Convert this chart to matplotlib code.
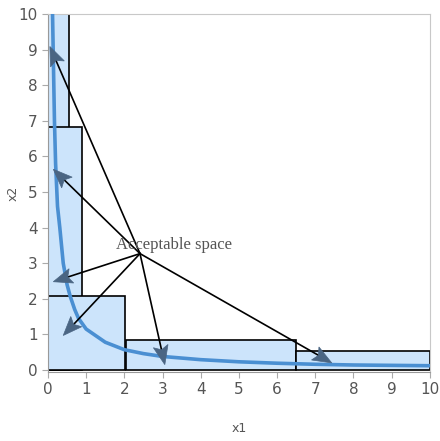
import numpy as np
import matplotlib.pyplot as plt
from matplotlib.patches import Rectangle, Polygon

# curve
curve_x1 = [0.12, 0.17, 0.2, 0.25, 0.31, 0.4, 0.5, 0.58, 0.7, 0.8, 1.0, 1.5, 2.0, 2.5, 3.0,
            4.0, 5.0, 6.0, 7.0, 8.0, 9.0, 10.0]
curve_x2 = [10.0, 7.0, 5.8, 4.6, 4.0, 3.0, 2.4, 2.08, 1.7, 1.45, 1.15, 0.78, 0.57, 0.46, 0.38,
            0.29, 0.23, 0.19, 0.16, 0.14, 0.13, 0.12]

# boxes: (x_start, x_end, height)
box_x0 = [0.0, 0.0, 0.0, 2.05, 6.5]
box_x1 = [0.55, 0.88, 2.03, 6.5, 10.0]
box_h = [10.0, 6.83, 2.08, 0.85, 0.52]

label_text = "Acceptable space"
label_xy = (1.78, 3.5)
center = (2.41, 3.27)
targets_x1 = [0.05, 0.14, 0.14, 0.4, 3.06, 7.43]
targets_x2 = [9.09, 5.64, 2.48, 0.97, 0.15, 0.2]

fig = plt.figure(figsize=(4.4, 4.41), dpi=100)
ax = fig.add_axes([0.109, 0.157, 0.868, 0.811])
ax.set_xlim(0, 10)
ax.set_ylim(-0.05, 10)

for a, b, h in zip(box_x0, box_x1, box_h):
    ax.add_patch(Rectangle((a, 0), b - a, h, facecolor='#cce4fb',
                           edgecolor='black', lw=1.2, zorder=2))

ax.plot(curve_x1, curve_x2, color='#4a8fd2', lw=2.6, zorder=3)

# arrow heads built in pixel space, then mapped back to data
head_len, head_w = 19.0, 15.0
c_disp = ax.transData.transform(center)
inv = ax.transData.inverted()
for tx, ty in zip(targets_x1, targets_x2):
    t_disp = ax.transData.transform((tx, ty))
    u = (c_disp - t_disp) / np.hypot(*(c_disp - t_disp))
    p = np.array([-u[1], u[0]])
    base = t_disp + u * head_len
    notch = t_disp + u * head_len * 0.8
    pts = [t_disp, base + p * head_w / 2, notch, base - p * head_w / 2]
    end = inv.transform(notch)
    ax.plot([center[0], end[0]], [center[1], end[1]], color='black', lw=1.2, zorder=4)
    ax.add_patch(Polygon(inv.transform(pts), closed=True, facecolor='#4a6583',
                         edgecolor='#4a6583', lw=0.5, zorder=5))

ax.text(label_xy[0], label_xy[1], label_text, family='Liberation Serif',
        fontsize=12, color='#555555', va='center', ha='left', zorder=6)

ax.set_xticks(range(0, 11))
ax.set_yticks(range(0, 11))
ax.tick_params(colors='#555555', labelsize=11, length=4, color='#aaaaaa')
ax.set_xlabel('x1', color='#555555', fontsize=9, labelpad=18)
ax.set_ylabel('x2', color='#555555', fontsize=9)
ax.yaxis.set_label_coords(-0.075, 0.5)
for s in ['top', 'right']:
    ax.spines[s].set_color('#c8c8c8')
for s in ['left', 'bottom']:
    ax.spines[s].set_color('#999999')

fig.savefig('out.png', dpi=100)
